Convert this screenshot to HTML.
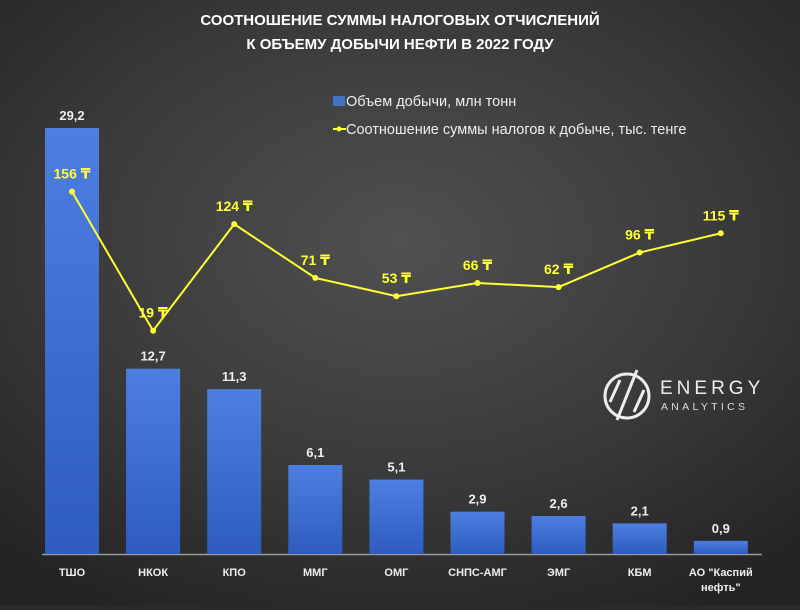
<!DOCTYPE html>
<html><head><meta charset="utf-8"><style>
html,body{margin:0;padding:0}
body{width:800px;height:605px;overflow:hidden;background:#2a2a2a;font-family:"Liberation Sans","DejaVu Sans",sans-serif}
#c{position:absolute;left:0;top:0;width:800px;height:605px;background:radial-gradient(ellipse 75% 70% at 50% 40%,#505050 0%,#3a3a3a 55%,#232323 100%)}
</style></head><body>
<div id="c">
<svg id="s" width="800" height="605"></svg>
</div>
<script>
const categories=["ТШО","НКОК","КПО","ММГ","ОМГ","СНПС-АМГ","ЭМГ","КБМ","АО \"Каспий|нефть\""];
const volumes=[29.2,12.7,11.3,6.1,5.1,2.9,2.6,2.1,0.9];
const volumeLabels=["29,2","12,7","11,3","6,1","5,1","2,9","2,6","2,1","0,9"];
const ratios=[156,19,124,71,53,66,62,96,115];
const NS="http://www.w3.org/2000/svg";
const s=document.getElementById('s');
function el(t,a,p){const e=document.createElementNS(NS,t);for(const k in a)e.setAttribute(k,a[k]);(p||s).appendChild(e);return e;}
const x=i=>72+i*81.1;
const yBar=v=>554-v*14.59;
const yLine=v=>350-v*1.015;
const defs=el('defs',{});
const g=el('linearGradient',{id:'bg',x1:0,y1:0,x2:0,y2:1},defs);
el('stop',{offset:'0','stop-color':'#4d7fe0'},g);el('stop',{offset:'1','stop-color':'#2e5cbf'},g);
let t=el('text',{x:400,y:25,'text-anchor':'middle',fill:'#fff','font-size':15,'font-weight':'bold'});t.textContent="СООТНОШЕНИЕ СУММЫ НАЛОГОВЫХ ОТЧИСЛЕНИЙ";

t=el('text',{x:400,y:49,'text-anchor':'middle',fill:'#fff','font-size':15,'font-weight':'bold'});t.textContent="К ОБЪЕМУ ДОБЫЧИ НЕФТИ В 2022 ГОДУ";

let lg=el('g',{});
el('rect',{x:333,y:96,width:12,height:10,fill:'#4472c4'},lg);
t=el('text',{x:346,y:106,fill:'#eee','font-size':14.5},lg);t.textContent="Объем добычи, млн тонн";
el('line',{x1:333,x2:346,y1:129,y2:129,stroke:'#ffff33','stroke-width':2},lg);
el('circle',{cx:339,cy:129,r:2.5,fill:'#ffff33'},lg);
t=el('text',{x:346,y:134,fill:'#eee','font-size':14.5},lg);t.textContent="Соотношение суммы налогов к добыче, тыс. тенге";
let lo=el('g',{});
el('circle',{cx:627,cy:396,r:22,fill:'none',stroke:'#eee','stroke-width':3},lo);
el('line',{x1:617,y1:420,x2:637,y2:370,stroke:'#eee','stroke-width':3},lo);
el('line',{x1:610,y1:402,x2:620,y2:380,stroke:'#eee','stroke-width':3},lo);
el('line',{x1:634,y1:412,x2:644,y2:390,stroke:'#eee','stroke-width':3},lo);
t=el('text',{x:660,y:394,fill:'#eee','font-size':19,'letter-spacing':4},lo);t.textContent="ENERGY";
t=el('text',{x:661,y:410,fill:'#ddd','font-size':10.5,'letter-spacing':3.3},lo);t.textContent="ANALYTICS";
const ax=el('line',{x1:42,x2:762,y1:554.5,y2:554.5,stroke:'#999','stroke-width':1.5});

categories.forEach((c,i)=>{
 const r=el('rect',{x:x(i)-27,y:yBar(volumes[i]),width:54,height:volumes[i]*14.59,fill:'url(#bg)'});
 
 const vl=el('text',{x:x(i),y:yBar(volumes[i])-8,'text-anchor':'middle',fill:'#eee','font-size':13,'font-weight':'bold'});vl.textContent=volumeLabels[i];
 
 const parts=c.split('|');
 parts.forEach((p,j)=>{const tl=el('text',{x:x(i),y:576+j*15,'text-anchor':'middle',fill:'#eee','font-size':11,'font-weight':'bold'});tl.textContent=p;
 });
});
const pts=ratios.map((v,i)=>x(i)+','+yLine(v)).join(' ');
const pl=el('polyline',{points:pts,fill:'none',stroke:'#ffff33','stroke-width':2});

ratios.forEach((v,i)=>{
 const c=el('circle',{cx:x(i),cy:yLine(v),r:3,fill:'#ffff33'});
 
 const l=el('text',{x:x(i),y:yLine(v)-13,'text-anchor':'middle',fill:'#ffff33','font-size':14,'font-weight':'bold'});l.textContent=v+" ₸";
 
});
</script>
</body></html>
